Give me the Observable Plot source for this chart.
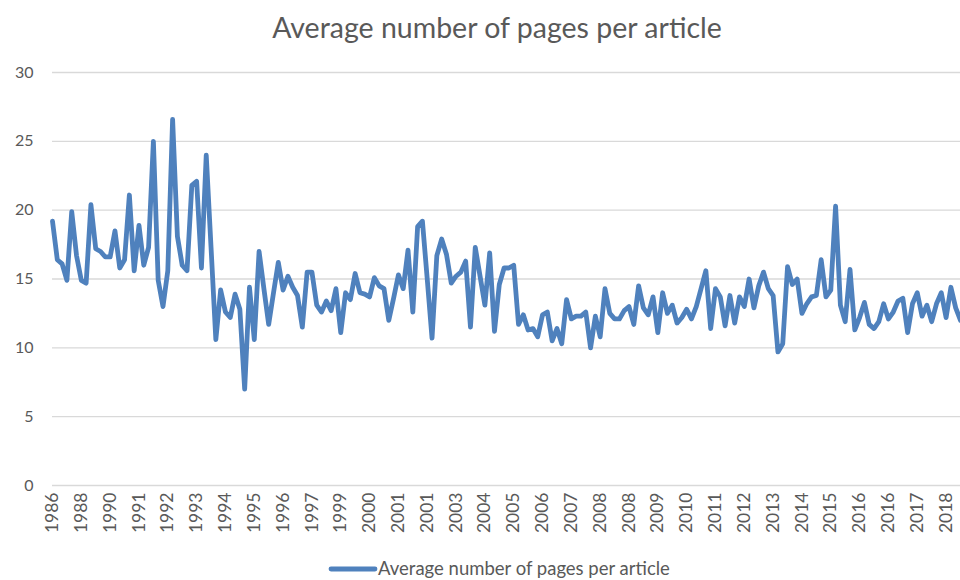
<!DOCTYPE html>
<html>
<head>
<meta charset="utf-8">
<script src="https://cdn.jsdelivr.net/npm/d3@7"></script>
<script src="https://cdn.jsdelivr.net/npm/@observablehq/plot@0.6"></script>
<style>
  body { margin: 0; background: #fff; }
  #chart { width: 960px; height: 580px; }
</style>
</head>
<body>
<div id="chart"></div>
<script>
const title = "Average number of pages per article";
const seriesName = "Average number of pages per article";

const tickLabels = ["1986","1988","1990","1991","1992","1993","1994","1995","1996","1997","1999","2000","2001","2001","2003","2004","2005","2006","2007","2008","2008","2009","2010","2011","2012","2013","2014","2015","2016","2016","2017","2018"];

const values = [
  19.2,16.4,16.1,14.9,19.9,16.7,14.9,14.7,20.4,17.2,
  17.0,16.6,16.6,18.5,15.8,16.4,21.1,15.6,18.9,16.0,
  17.3,25.0,14.9,13.0,15.6,26.6,18.1,16.0,15.6,21.8,
  22.1,15.8,24.0,17.3,10.6,14.2,12.6,12.2,13.9,12.8,
  7.0,14.4,10.6,17.0,14.3,11.7,14.0,16.2,14.2,15.2,
  14.4,13.8,11.5,15.5,15.5,13.1,12.6,13.4,12.7,14.3,
  11.1,14.0,13.5,15.4,14.0,13.9,13.7,15.1,14.5,14.3,
  12.0,13.6,15.3,14.3,17.1,12.6,18.8,19.2,15.0,10.7,
  16.7,17.9,16.8,14.7,15.2,15.5,16.3,11.5,17.3,15.2,
  13.1,16.9,11.2,14.6,15.8,15.8,16.0,11.7,12.4,11.3,
  11.4,10.8,12.4,12.6,10.5,11.4,10.3,13.5,12.1,12.3,
  12.3,12.6,10.0,12.3,10.8,14.3,12.5,12.1,12.1,12.7,
  13.0,11.7,14.5,12.9,12.4,13.7,11.1,14.0,12.5,13.1,
  11.8,12.2,12.8,12.1,13.0,14.3,15.6,11.4,14.3,13.7,
  11.6,13.8,11.8,13.7,13.0,15.0,12.9,14.5,15.5,14.3,
  13.8,9.7,10.3,15.9,14.6,15.0,12.5,13.2,13.7,13.8,
  16.4,13.7,14.2,20.3,13.1,11.9,15.7,11.3,12.2,13.3,
  11.7,11.4,11.9,13.2,12.1,12.6,13.4,13.6,11.1,13.2,
  14.0,12.3,13.1,11.9,13.2,14.0,12.2,14.4,12.9,12.0
];

const yTicks = [0, 5, 10, 15, 20, 25, 30];
const labelEvery = 6;

const data = values.map((v, i) => ({i, v}));
const tickIdx = tickLabels.map((_, k) => k * labelEvery);

const lineColor = "#4f81bd";
const textColor = "#595959";
const font = "Lato, 'Open Sans', sans-serif";

const plot = Plot.plot({
  width: 960,
  height: 580,
  marginTop: 72,
  marginBottom: 95,
  marginLeft: 52,
  marginRight: 0,
  style: {fontFamily: font, fontSize: "16px", color: textColor, background: "#fff", overflow: "visible"},
  x: {
    domain: [0, values.length - 1],
    ticks: tickIdx,
    tickFormat: i => tickLabels[Math.round(i / labelEvery)],
    tickRotate: -90,
    tickSize: 0,
    tickPadding: 7,
    label: null
  },
  y: {
    domain: [0, 30],
    ticks: yTicks,
    tickSize: 0,
    tickPadding: 19,
    label: null
  },
  marks: [
    Plot.ruleY(yTicks, {stroke: "#d9d9d9", strokeWidth: 1.3}),
    Plot.line(data, {x: "i", y: "v", stroke: lineColor, strokeWidth: 4.8, strokeLinejoin: "round", strokeLinecap: "round"})
  ]
});

const svg = d3.select(plot);
svg.selectAll("[aria-label='x-axis tick label'] text, [aria-label='x-axis'] text").style("font-size", "17.5px");

svg.append("text")
  .attr("x", 497).attr("y", 38)
  .attr("text-anchor", "middle")
  .attr("fill", textColor)
  .style("font-family", font)
  .style("font-size", "28.5px")
  .text(title);

const lg = svg.append("g");
lg.append("line")
  .attr("x1", 331).attr("x2", 375).attr("y1", 569).attr("y2", 569)
  .attr("stroke", lineColor).attr("stroke-width", 4.8).attr("stroke-linecap", "round");
lg.append("text")
  .attr("x", 378).attr("y", 575)
  .attr("text-anchor", "start")
  .attr("fill", textColor)
  .style("font-family", font)
  .style("font-size", "18.5px")
  .text(seriesName);

document.getElementById("chart").appendChild(plot);
</script>
</body>
</html>
